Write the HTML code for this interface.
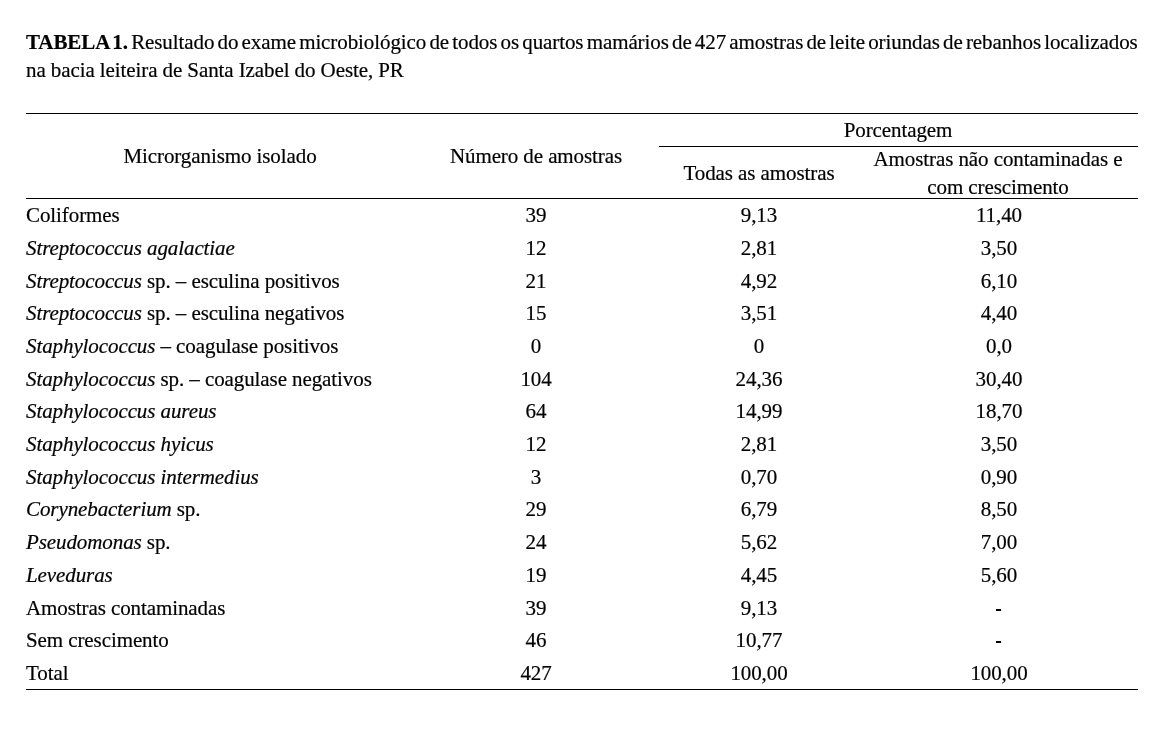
<!DOCTYPE html>
<html><head><meta charset="utf-8">
<style>
html,body{margin:0;padding:0;background:#fff;}
body{width:1161px;height:738px;position:relative;overflow:hidden;font-family:"Liberation Serif",serif;font-size:21px;color:#000;letter-spacing:-0.09px;}
.t{position:absolute;white-space:nowrap;line-height:21px;height:21px;will-change:transform;-webkit-text-stroke:0.2px #000;}
.c{width:600px;text-align:center;}
.r{position:absolute;background:#000;height:1px;}
i{font-style:italic;}
</style></head><body>
<div class="t" style="left:26px;top:32px;word-spacing:-1.94px"><b>TABELA 1.</b> Resultado do exame microbiológico de todos os quartos mamários de 427 amostras de leite oriundas de rebanhos localizados</div>
<div class="t" style="left:25.5px;top:60px">na bacia leiteira de Santa Izabel do Oeste, PR</div>
<div class="t c" style="left:-80.5px;top:146px">Microrganismo isolado</div>
<div class="t c" style="left:236px;top:146px">Número de amostras</div>
<div class="t c" style="left:598.3px;top:120px">Porcentagem</div>
<div class="t c" style="left:459px;top:163px">Todas as amostras</div>
<div class="t c" style="left:698px;top:149px">Amostras não contaminadas e</div>
<div class="t c" style="left:698.3px;top:177px">com crescimento</div>
<div class="t" style="left:26px;top:205px">Coliformes</div>
<div class="t c" style="left:236.4px;top:205px">39</div>
<div class="t c" style="left:459.3px;top:205px">9,13</div>
<div class="t c" style="left:698.8px;top:205px">11,40</div>
<div class="t" style="left:26px;top:238px"><i>Streptococcus agalactiae</i></div>
<div class="t c" style="left:236.4px;top:238px">12</div>
<div class="t c" style="left:459.3px;top:238px">2,81</div>
<div class="t c" style="left:698.8px;top:238px">3,50</div>
<div class="t" style="left:26px;top:271px"><i>Streptococcus</i> sp. – esculina positivos</div>
<div class="t c" style="left:236.4px;top:271px">21</div>
<div class="t c" style="left:459.3px;top:271px">4,92</div>
<div class="t c" style="left:698.8px;top:271px">6,10</div>
<div class="t" style="left:26px;top:303px"><i>Streptococcus</i> sp. – esculina negativos</div>
<div class="t c" style="left:236.4px;top:303px">15</div>
<div class="t c" style="left:459.3px;top:303px">3,51</div>
<div class="t c" style="left:698.8px;top:303px">4,40</div>
<div class="t" style="left:26px;top:336px"><i>Staphylococcus</i> – coagulase positivos</div>
<div class="t c" style="left:236.4px;top:336px">0</div>
<div class="t c" style="left:459.3px;top:336px">0</div>
<div class="t c" style="left:698.8px;top:336px">0,0</div>
<div class="t" style="left:26px;top:369px"><i>Staphylococcus</i> sp. – coagulase negativos</div>
<div class="t c" style="left:236.4px;top:369px">104</div>
<div class="t c" style="left:459.3px;top:369px">24,36</div>
<div class="t c" style="left:698.8px;top:369px">30,40</div>
<div class="t" style="left:26px;top:401px"><i>Staphylococcus aureus</i></div>
<div class="t c" style="left:236.4px;top:401px">64</div>
<div class="t c" style="left:459.3px;top:401px">14,99</div>
<div class="t c" style="left:698.8px;top:401px">18,70</div>
<div class="t" style="left:26px;top:434px"><i>Staphylococcus hyicus</i></div>
<div class="t c" style="left:236.4px;top:434px">12</div>
<div class="t c" style="left:459.3px;top:434px">2,81</div>
<div class="t c" style="left:698.8px;top:434px">3,50</div>
<div class="t" style="left:26px;top:467px"><i>Staphylococcus intermedius</i></div>
<div class="t c" style="left:236.4px;top:467px">3</div>
<div class="t c" style="left:459.3px;top:467px">0,70</div>
<div class="t c" style="left:698.8px;top:467px">0,90</div>
<div class="t" style="left:26px;top:499px"><i>Corynebacterium</i> sp.</div>
<div class="t c" style="left:236.4px;top:499px">29</div>
<div class="t c" style="left:459.3px;top:499px">6,79</div>
<div class="t c" style="left:698.8px;top:499px">8,50</div>
<div class="t" style="left:26px;top:532px"><i>Pseudomonas</i> sp.</div>
<div class="t c" style="left:236.4px;top:532px">24</div>
<div class="t c" style="left:459.3px;top:532px">5,62</div>
<div class="t c" style="left:698.8px;top:532px">7,00</div>
<div class="t" style="left:26px;top:565px"><i>Leveduras</i></div>
<div class="t c" style="left:236.4px;top:565px">19</div>
<div class="t c" style="left:459.3px;top:565px">4,45</div>
<div class="t c" style="left:698.8px;top:565px">5,60</div>
<div class="t" style="left:26px;top:598px">Amostras contaminadas</div>
<div class="t c" style="left:236.4px;top:598px">39</div>
<div class="t c" style="left:459.3px;top:598px">9,13</div>
<div class="r" style="left:996px;top:609px;width:5px;height:2px"></div>
<div class="t" style="left:26px;top:630px">Sem crescimento</div>
<div class="t c" style="left:236.4px;top:630px">46</div>
<div class="t c" style="left:459.3px;top:630px">10,77</div>
<div class="r" style="left:996px;top:641px;width:5px;height:2px"></div>
<div class="t" style="left:26px;top:663px">Total</div>
<div class="t c" style="left:236.4px;top:663px">427</div>
<div class="t c" style="left:459.3px;top:663px">100,00</div>
<div class="t c" style="left:698.8px;top:663px">100,00</div>
<div class="r" style="left:26px;top:113px;width:1112px"></div>
<div class="r" style="left:659px;top:146px;width:479px"></div>
<div class="r" style="left:26px;top:198px;width:1112px"></div>
<div class="r" style="left:26px;top:689px;width:1112px"></div>
</body></html>
